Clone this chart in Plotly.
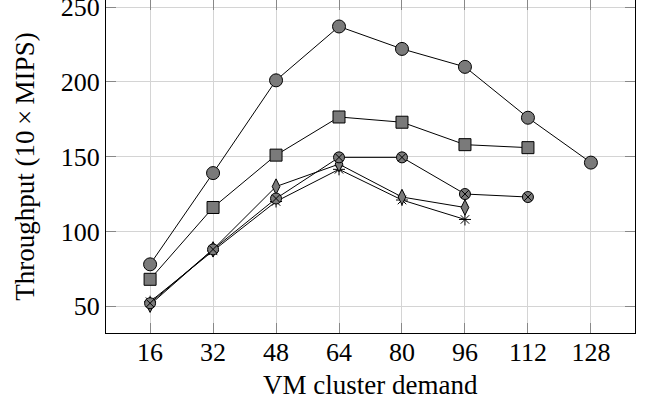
import plotly.graph_objects as go

x_vals = [16, 32, 48, 64, 80, 96, 112, 128]
s_circle = [78, 139, 201, 237, 222, 210, 176, 146]
s_square = [68, 116, 151, 176.5, 173, 158, 156]
s_otimes = [52, 88, 122, 149.5, 149.5, 125, 123]
s_diamond = [51, 88, 130, 145, 123, 116]
s_star = [53, 87, 120, 141.5, 121, 108]

x_ticks = [16, 32, 48, 64, 80, 96, 112, 128]
y_ticks = [50, 100, 150, 200, 250]

FILL = "#7a7a7a"
FONT = "Liberation Serif"

fig = go.Figure()

def add(ys, symbol, size, color=FILL, lw=1):
    fig.add_trace(go.Scatter(
        x=x_vals[:len(ys)], y=ys, mode="lines+markers",
        line=dict(color="black", width=1),
        marker=dict(symbol=symbol, size=size, color=color,
                    line=dict(color="black", width=lw)),
        showlegend=False))

add(s_star, "asterisk-open", 10, color="black")
add(s_diamond, "diamond-tall", 11)
add(s_otimes, "circle-x", 11)
add(s_square, "square", 12)
add(s_circle, "circle", 13)

# dummy trace for top tick axis
fig.add_trace(go.Scatter(x=[16], y=[100], xaxis="x2", mode="markers",
                         marker=dict(opacity=0), showlegend=False, hoverinfo="skip"))

xr = [4.8, 139.2]
fig.update_layout(
    width=646, height=404,
    margin=dict(l=106, r=11, t=0, b=71),
    plot_bgcolor="white", paper_bgcolor="white",
    font=dict(family=FONT, size=26, color="black"),
    xaxis=dict(range=xr, tickvals=x_ticks, ticks="inside", ticklen=10,
               tickcolor="#888888", tickwidth=1, automargin=False,
               showline=True, linecolor="black", linewidth=1, mirror=False,
               showgrid=True, gridcolor="#d4d4d4", gridwidth=1,
               zeroline=False, ticklabeloverflow="allow", ticklabelstandoff=-4,
               tickfont=dict(size=26)),
    xaxis2=dict(range=xr, tickvals=x_ticks, ticks="inside", ticklen=10,
                tickcolor="#888888", overlaying="x", side="top", automargin=False,
                showticklabels=False, showgrid=False, showline=False, zeroline=False),
    yaxis=dict(range=[32.1, 254.7], tickvals=y_ticks, ticks="inside", ticklen=10,
               tickcolor="#888888", tickwidth=1, automargin=False,
               showline=True, linecolor="black", linewidth=1, mirror="ticks",
               showgrid=True, gridcolor="#d4d4d4", gridwidth=1,
               zeroline=False, ticklabeloverflow="allow",
               title=dict(text="Throughput (10\u2009×\u2009MIPS)", font=dict(size=27), standoff=18),
               tickfont=dict(size=26)),
    annotations=[dict(text="VM cluster demand", xref="paper", yref="paper",
                      x=0.5, y=-0.156, xanchor="center", yanchor="middle",
                      showarrow=False, font=dict(size=27))],
)

fig.write_html("out.html", post_script="document.body.style.margin='0px';",
               config={"displayModeBar": False})
